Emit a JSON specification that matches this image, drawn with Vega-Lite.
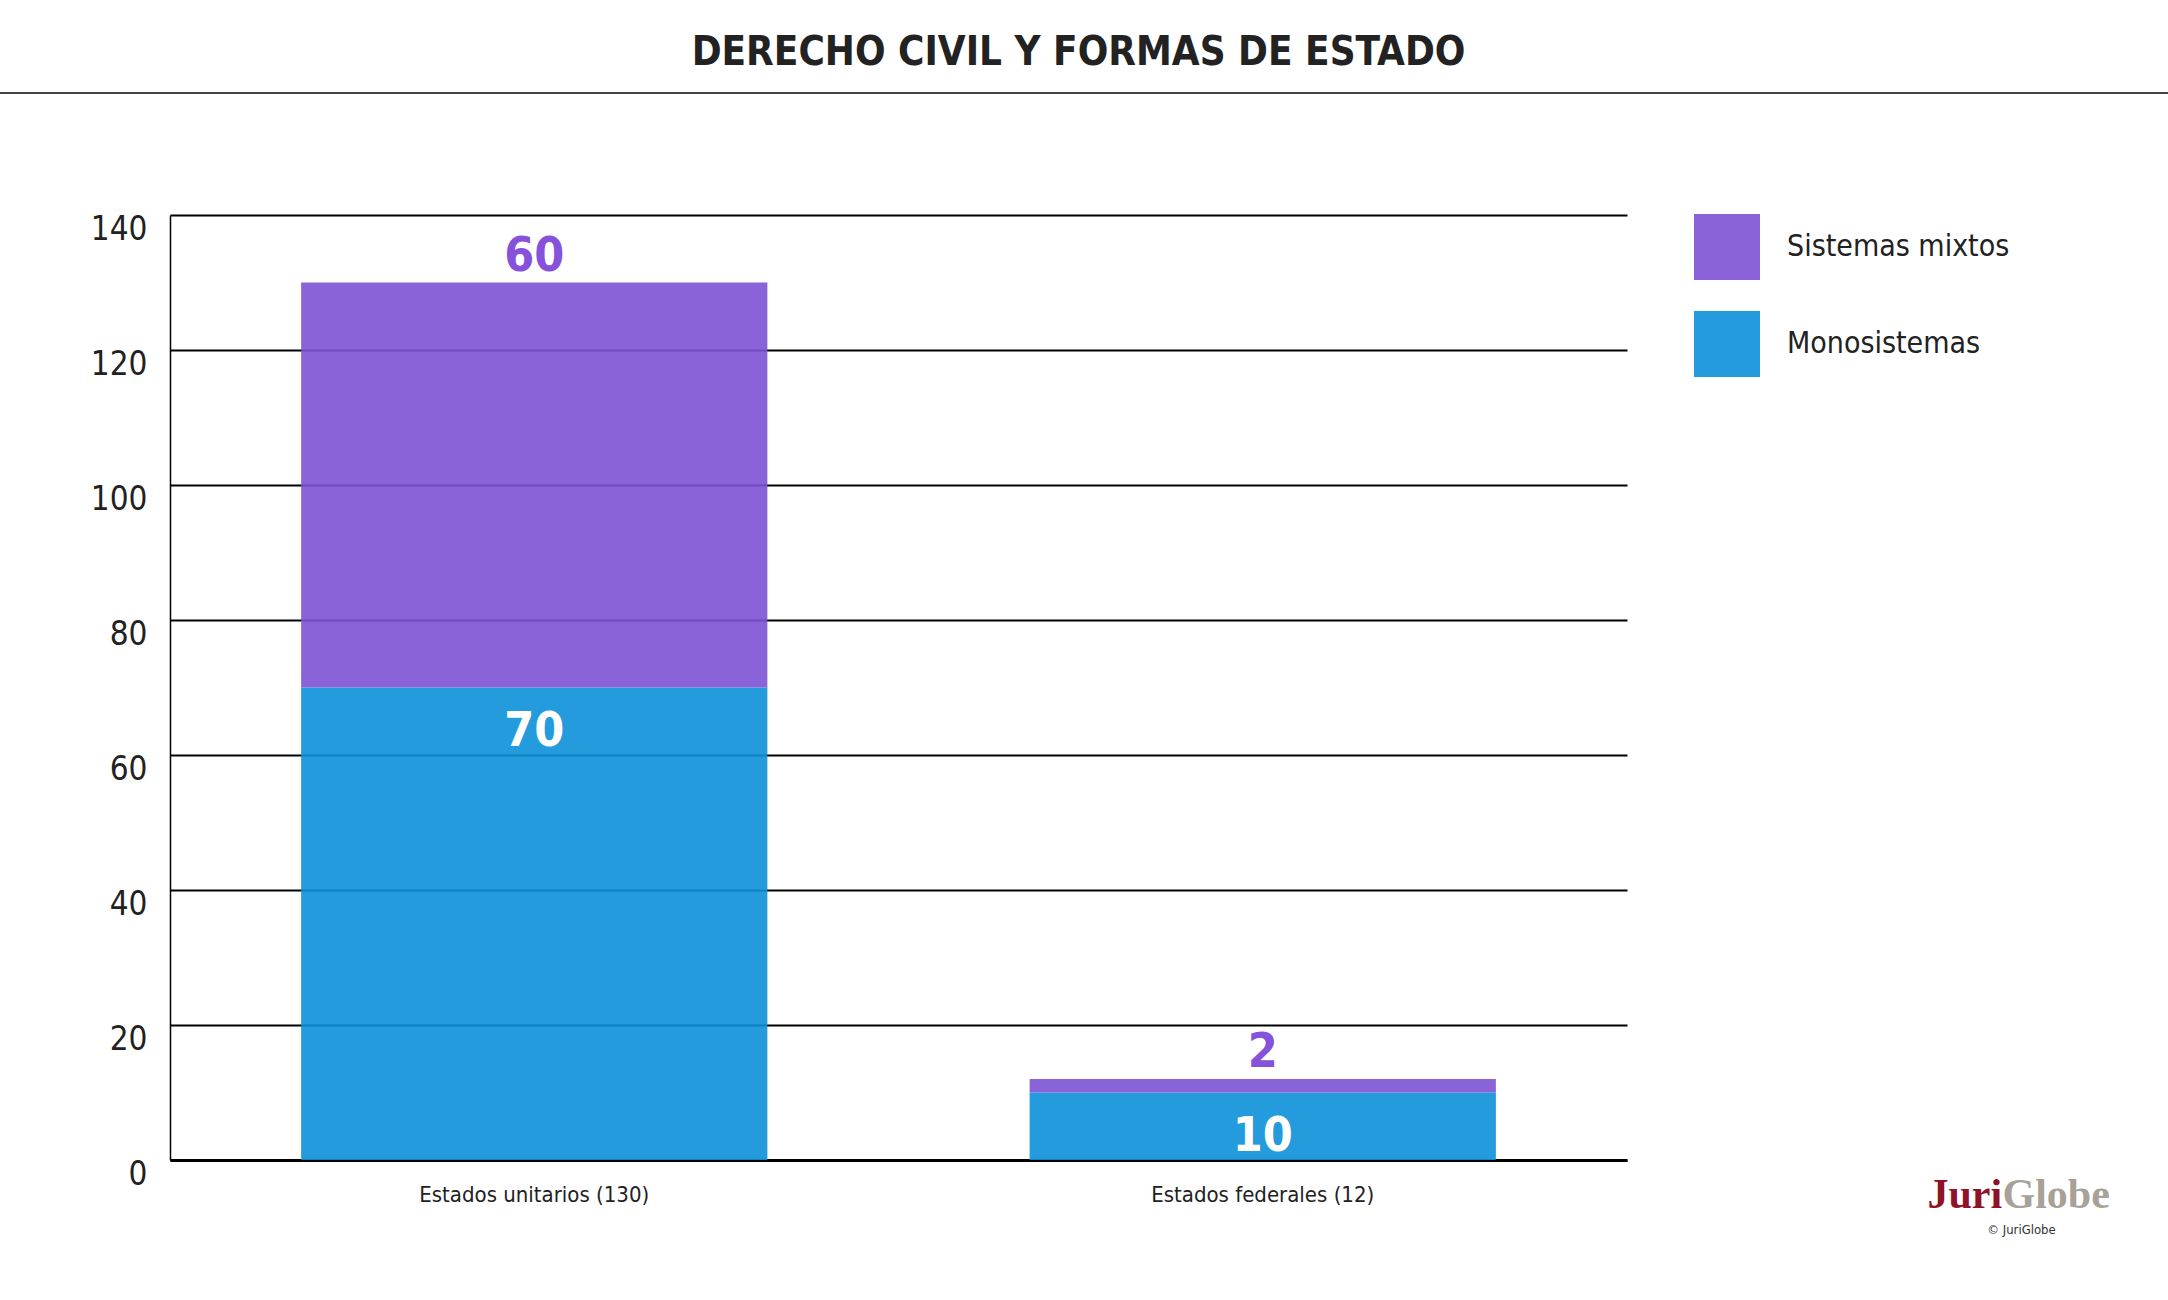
{
  "$schema": "https://vega.github.io/schema/vega-lite/v6.json",
  "autosize": {"type": "none"},
  "width": 1457,
  "height": 945,
  "padding": {"left": 170, "top": 215, "right": 541, "bottom": 140},
  "background": "white",
  "config": {
    "font": "DejaVu Sans Condensed, Liberation Sans Narrow, DejaVu Sans",
    "view": {"stroke": null}
  },
  "title": {
    "text": "DERECHO CIVIL Y FORMAS DE ESTADO",
    "font": "DejaVu Sans Condensed, Liberation Sans Narrow, DejaVu Sans",
    "fontSize": 40,
    "fontWeight": "bold",
    "color": "#222222",
    "anchor": "middle",
    "frame": "group",
    "dx": 180,
    "offset": 19
  },
  "data": {
    "values": [
      {"categoria": "Estados unitarios (130)", "tipo": "Monosistemas", "valor": 70},
      {"categoria": "Estados unitarios (130)", "tipo": "Sistemas mixtos", "valor": 60},
      {"categoria": "Estados federales (12)", "tipo": "Monosistemas", "valor": 10},
      {"categoria": "Estados federales (12)", "tipo": "Sistemas mixtos", "valor": 2}
    ]
  },
  "resolve": {"scale": {"x": "independent"}, "axis": {"x": "independent"}},
  "layer": [
    {
      "transform": [
        {"stack": "valor", "groupby": ["categoria"], "sort": [{"field": "tipo", "order": "ascending"}], "as": ["v0", "v1"]}
      ],
      "layer": [
        {
          "mark": {"type": "bar", "opacity": 0.9},
          "encoding": {
            "x": {
              "field": "categoria",
              "type": "nominal",
              "sort": ["Estados unitarios (130)", "Estados federales (12)"],
              "scale": {"paddingInner": 0.36, "paddingOuter": 0.18},
              "axis": {
                "orient": "bottom",
                "labelAngle": 0,
                "labelFontSize": 22,
                "labelColor": "#222222",
                "labelPadding": 24,
                "labelLimit": 0,
                "ticks": false,
                "domain": true,
                "domainColor": "#000000",
                "domainWidth": 3,
                "title": "Juri",
                "titleFont": "Liberation Serif, DejaVu Serif",
                "titleFontSize": 42,
                "titleFontWeight": "bold",
                "titleColor": "#8E1328",
                "titleAlign": "left",
                "titleBaseline": "alphabetic",
                "titleAnchor": null,
                "titleX": 1757,
                "titleY": 47
              }
            },
            "y": {
              "field": "v1",
              "type": "quantitative",
              "scale": {"domain": [0, 140], "nice": false},
              "axis": {
                "values": [0, 20, 40, 60, 80, 100, 120, 140],
                "labelFontSize": 33,
                "labelColor": "#222222",
                "labelPadding": 23,
                "labelBaseline": "middle",
                "labelOffset": 14,
                "ticks": false,
                "domain": true,
                "domainColor": "#000000",
                "domainWidth": 1.5,
                "grid": true,
                "gridColor": "#000000",
                "gridWidth": 1.8,
                "gridOpacity": 1,
                "title": "© JuriGlobe",
                "titleFontSize": 13,
                "titleFontWeight": "normal",
                "titleColor": "#333333",
                "titleAngle": 0,
                "titleAlign": "center",
                "titleBaseline": "middle",
                "titleAnchor": null,
                "titleX": 1851,
                "titleY": 1014
              }
            },
            "y2": {"field": "v0"},
            "color": {
              "field": "tipo",
              "type": "nominal",
              "scale": {"domain": ["Sistemas mixtos", "Monosistemas"], "range": ["#7D52D4", "#0B90D8"]},
              "legend": {
                "title": null,
                "orient": "none",
                "legendX": 1524,
                "legendY": -1,
                "padding": 0,
                "symbolType": "square",
                "symbolSize": 4356,
                "symbolOpacity": 0.9,
                "symbolStrokeWidth": 0,
                "labelFontSize": 30,
                "labelColor": "#222222",
                "labelOffset": 27,
                "labelLimit": 0,
                "rowPadding": 31
              }
            }
          }
        },
        {
          "transform": [{"filter": "datum.tipo === 'Sistemas mixtos'"}],
          "mark": {"type": "text", "fontSize": 48, "fontWeight": "bold", "color": "#8652DC", "baseline": "alphabetic", "dy": -12},
          "encoding": {
            "x": {"field": "categoria", "type": "nominal", "sort": ["Estados unitarios (130)", "Estados federales (12)"]},
            "y": {"field": "v1", "type": "quantitative"},
            "text": {"field": "valor", "type": "quantitative"}
          }
        },
        {
          "transform": [{"filter": "datum.tipo === 'Monosistemas'"}],
          "mark": {"type": "text", "fontSize": 48, "fontWeight": "bold", "color": "#FFFFFF", "baseline": "top", "dy": 20},
          "encoding": {
            "x": {"field": "categoria", "type": "nominal", "sort": ["Estados unitarios (130)", "Estados federales (12)"]},
            "y": {"field": "v1", "type": "quantitative"},
            "text": {"field": "valor", "type": "quantitative"}
          }
        }
      ]
    },
    {
      "data": {"values": [{"linea": "cabecera"}]},
      "mark": {"type": "rule", "color": "#444444", "strokeWidth": 2},
      "encoding": {
        "x": {
          "datum": 0,
          "type": "quantitative",
          "scale": {"domain": [170, 1627], "nice": false, "zero": false},
          "axis": {
            "orient": "top",
            "domain": false,
            "labels": false,
            "ticks": false,
            "grid": false,
            "title": "Globe",
            "titleFont": "Liberation Serif, DejaVu Serif",
            "titleFontSize": 42,
            "titleFontWeight": "bold",
            "titleColor": "#A8A198",
            "titleAlign": "left",
            "titleBaseline": "alphabetic",
            "titleAnchor": null,
            "titleX": 1832,
            "titleY": 992
          }
        },
        "x2": {"datum": 2168},
        "y": {"datum": 158.07, "type": "quantitative"}
      }
    }
  ]
}
